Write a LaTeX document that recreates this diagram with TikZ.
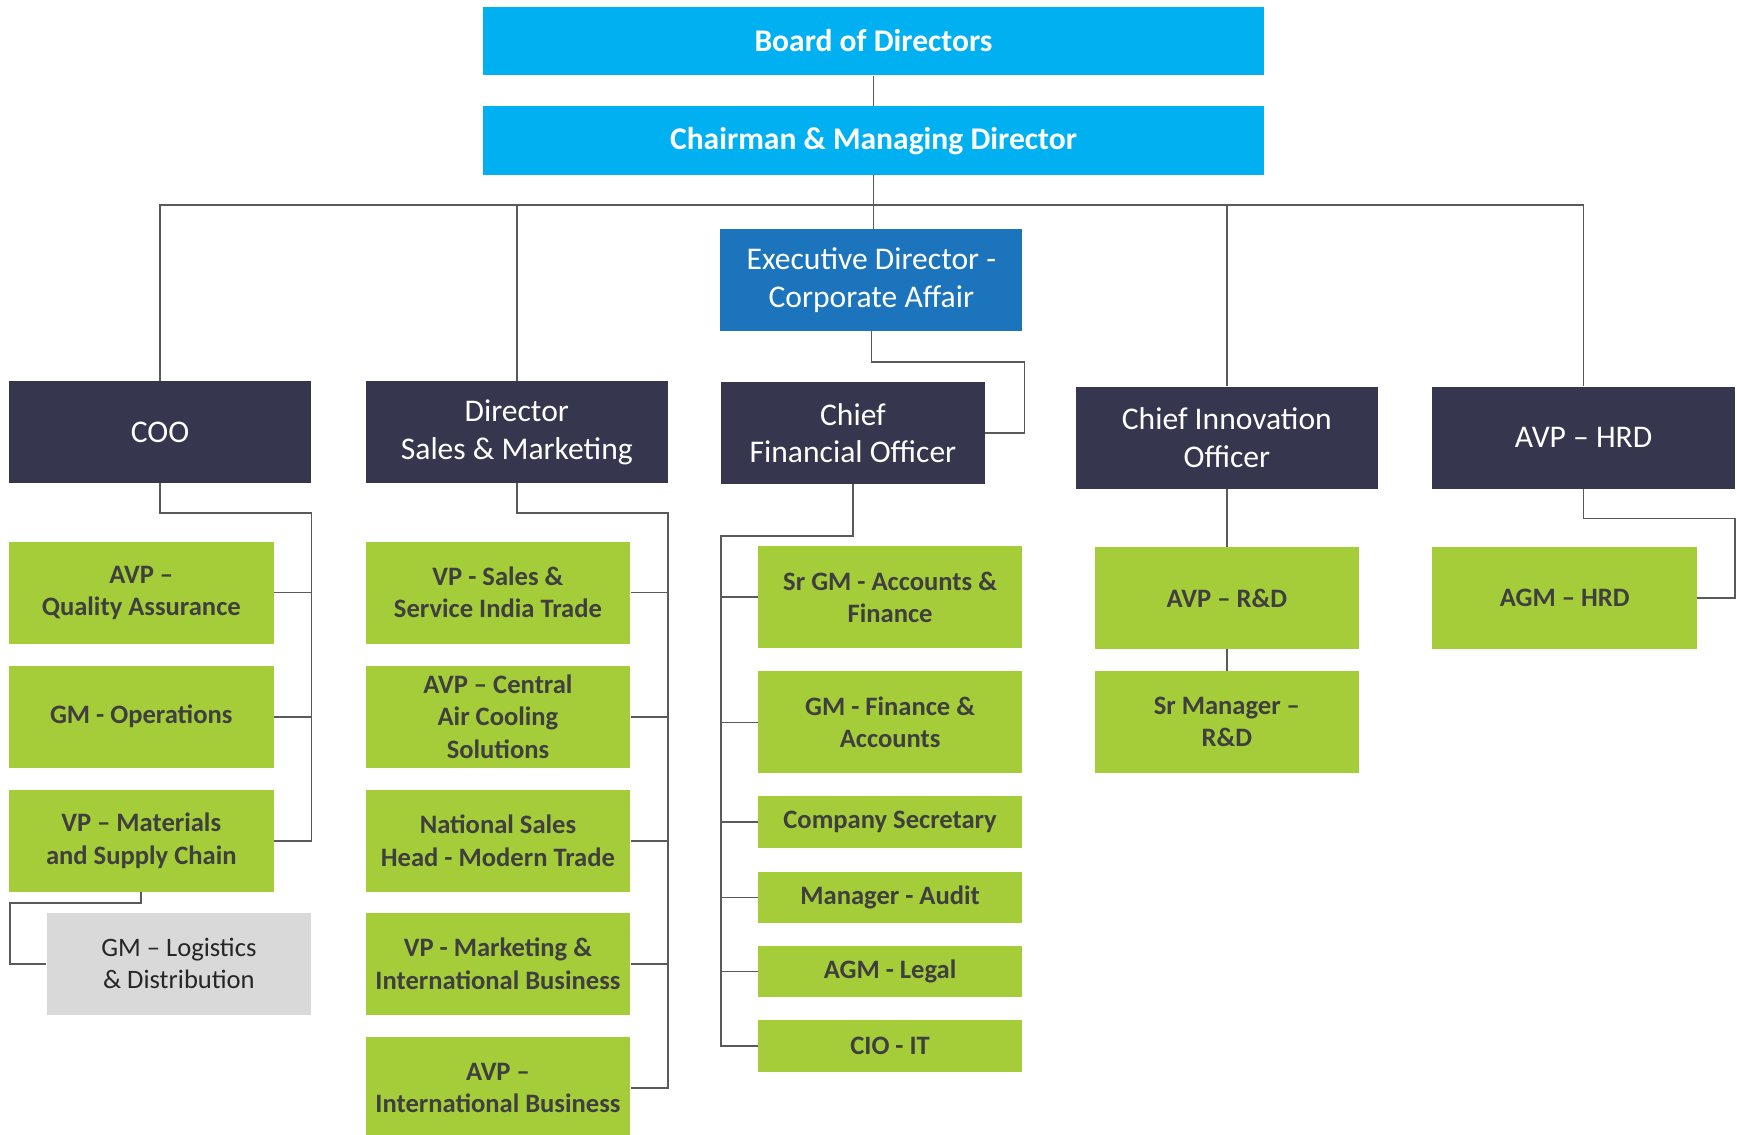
\documentclass[tikz,border=0pt]{standalone}
\usepackage{fontspec}
\setmainfont{Carlito}
\usetikzlibrary{calc}
\definecolor{barcyan}{HTML}{00B0F0}
\definecolor{execblue}{HTML}{1C75BC}
\definecolor{chiefnavy}{HTML}{36364E}
\definecolor{rolegreen}{HTML}{A5CD39}
\definecolor{roletext}{HTML}{3F3F3F}
\definecolor{gmgray}{HTML}{D9D9D9}
\definecolor{wiregray}{HTML}{5A5A5A}
\tikzset{
  bluebar/.style={fill=barcyan, text=white, inner sep=0pt, minimum width=705pt, minimum height=62pt, font=\bfseries\fontsize{28.5}{34}\selectfont},
  chiefbox/.style={fill=chiefnavy, text=white, inner sep=0pt, minimum width=273pt, minimum height=92pt, align=center, font=\fontsize{28.5}{34}\selectfont},
  rolebox/.style={fill=rolegreen, text=roletext, inner sep=0pt, minimum width=239pt, minimum height=92pt, align=center, font=\bfseries\fontsize{24}{29}\selectfont},
  slimbox/.style={rolebox, minimum height=46.5pt},
  wire/.style={draw=wiregray, line width=1.4pt}
}

\begin{document}
\begin{tikzpicture}[x=1pt, y=-1pt]
			%%%%% START %%%%%
			\useasboundingbox (0,0) rectangle (1568,1024);
			
			\node[bluebar] (board) at (788.5, 37) {Board of Directors};
			\node[bluebar] (chair) at (788.5, 127) {Chairman \& Managing Director};
			
			\node[chiefbox, fill=execblue] (exec) at (786.5, 253) {Executive Director -\\Corporate Affair};
			
			\node[chiefbox] (coo) at (144.5, 390) {COO};
			\node[chiefbox] (dir) at (466.5, 390) {Director\\Sales \& Marketing};
			\node[chiefbox, minimum width=238pt] (cfo) at (770, 391) {Chief\\Financial Officer};
			\node[chiefbox] (cino) at (1107.5, 395) {Chief Innovation\\Officer};
			\node[chiefbox] (hrd) at (1429.5, 395) {AVP – HRD};
			
			% under COO
			\node[rolebox] (qa) at (127.5, 535) {AVP –\\Quality Assurance};
			\node[rolebox] (ops) at (127.5, 647) {GM - Operations};
			\node[rolebox] (mat) at (127.5, 759) {VP – Materials\\and Supply Chain};
			\node[rolebox, fill=gmgray, text=black!85, font=\fontsize{24}{29}\selectfont] (logi) at (161.5, 870) {GM – Logistics\\\& Distribution};
			
			% under sales
			\node[rolebox] (vps) at (449.5, 535) {VP - Sales \&\\Service India Trade};
			\node[rolebox] (cac) at (449.5, 647) {AVP – Central\\Air Cooling\\Solutions};
			\node[rolebox] (nsh) at (449.5, 759) {National Sales\\Head - Modern Trade};
			\node[rolebox] (vpm) at (449.5, 870) {VP - Marketing \&\\International Business};
			\node[rolebox] (avpi) at (449.5, 982) {AVP –\\International Business};
			
			% under CFO
			\node[rolebox] (srgm) at (803.5, 539) {Sr GM - Accounts \&\\Finance};
			\node[rolebox] (gmfa) at (803.5, 652) {GM - Finance \&\\Accounts};
			\node[slimbox] (cosec) at (803.5, 742) {Company Secretary};
			\node[slimbox] (audit) at (803.5, 810) {Manager - Audit};
			\node[slimbox] (legal) at (803.5, 877) {AGM - Legal};
			\node[slimbox] (cioit) at (803.5, 944) {CIO - IT};
			
			% under CINO and HRD
			\node[rolebox] (avprd) at (1107.5, 540) {AVP – R\&D};
			\node[rolebox] (srmrd) at (1107.5, 652) {Sr Manager –\\R\&D};
			\node[rolebox] (agmhrd) at (1412.5, 540) {AGM – HRD};
			
			\coordinate (bus) at (0, 185);
			\coordinate (cbus) at (0, 463);
			\coordinate (lbus) at (9, 815);
			\coordinate (fbus) at (0, 484);
			\coordinate (ebend) at (925, 327);
			\coordinate (hbend) at (1566, 468);
			
			\draw[wire] (board) -- (chair);
			\draw[wire] (chair.south) -- (chair.south |- exec.north);
			\draw[wire] (coo.north) |- (hrd.north |- bus) -- (hrd.north);
			\draw[wire] (dir.north) -- (dir.north |- bus);
			\draw[wire] (cino.north) -- (cino.north |- bus);
			
			\draw[wire] (coo.south) |- (coo.east |- cbus) |- (mat.east);
			\draw[wire] (qa.east) -- (qa.east -| coo.east);
			\draw[wire] (ops.east) -- (ops.east -| coo.east);
			\draw[wire] (mat.south) |- (lbus) |- (logi.west);
			
			\draw[wire] (dir.south) |- (dir.east |- cbus) |- (avpi.east);
			\draw[wire] (vps.east) -- (vps.east -| dir.east);
			\draw[wire] (cac.east) -- (cac.east -| dir.east);
			\draw[wire] (nsh.east) -- (nsh.east -| dir.east);
			\draw[wire] (vpm.east) -- (vpm.east -| dir.east);
			
			\draw[wire] (exec.south) |- (ebend) |- (cfo.east);
			\draw[wire] (cfo.south) |- (cfo.west |- fbus) |- (cioit.west);
			\draw[wire] (srgm.west) -- (srgm.west -| cfo.west);
			\draw[wire] (gmfa.west) -- (gmfa.west -| cfo.west);
			\draw[wire] (cosec.west) -- (cosec.west -| cfo.west);
			\draw[wire] (audit.west) -- (audit.west -| cfo.west);
			\draw[wire] (legal.west) -- (legal.west -| cfo.west);
			
			\draw[wire] (cino) -- (avprd);
			\draw[wire] (avprd) -- (srmrd);
			\draw[wire] (hrd.south) |- (hbend) |- (agmhrd.east);
			
			%%%%% END %%%%%
		\end{tikzpicture}
\end{document}
